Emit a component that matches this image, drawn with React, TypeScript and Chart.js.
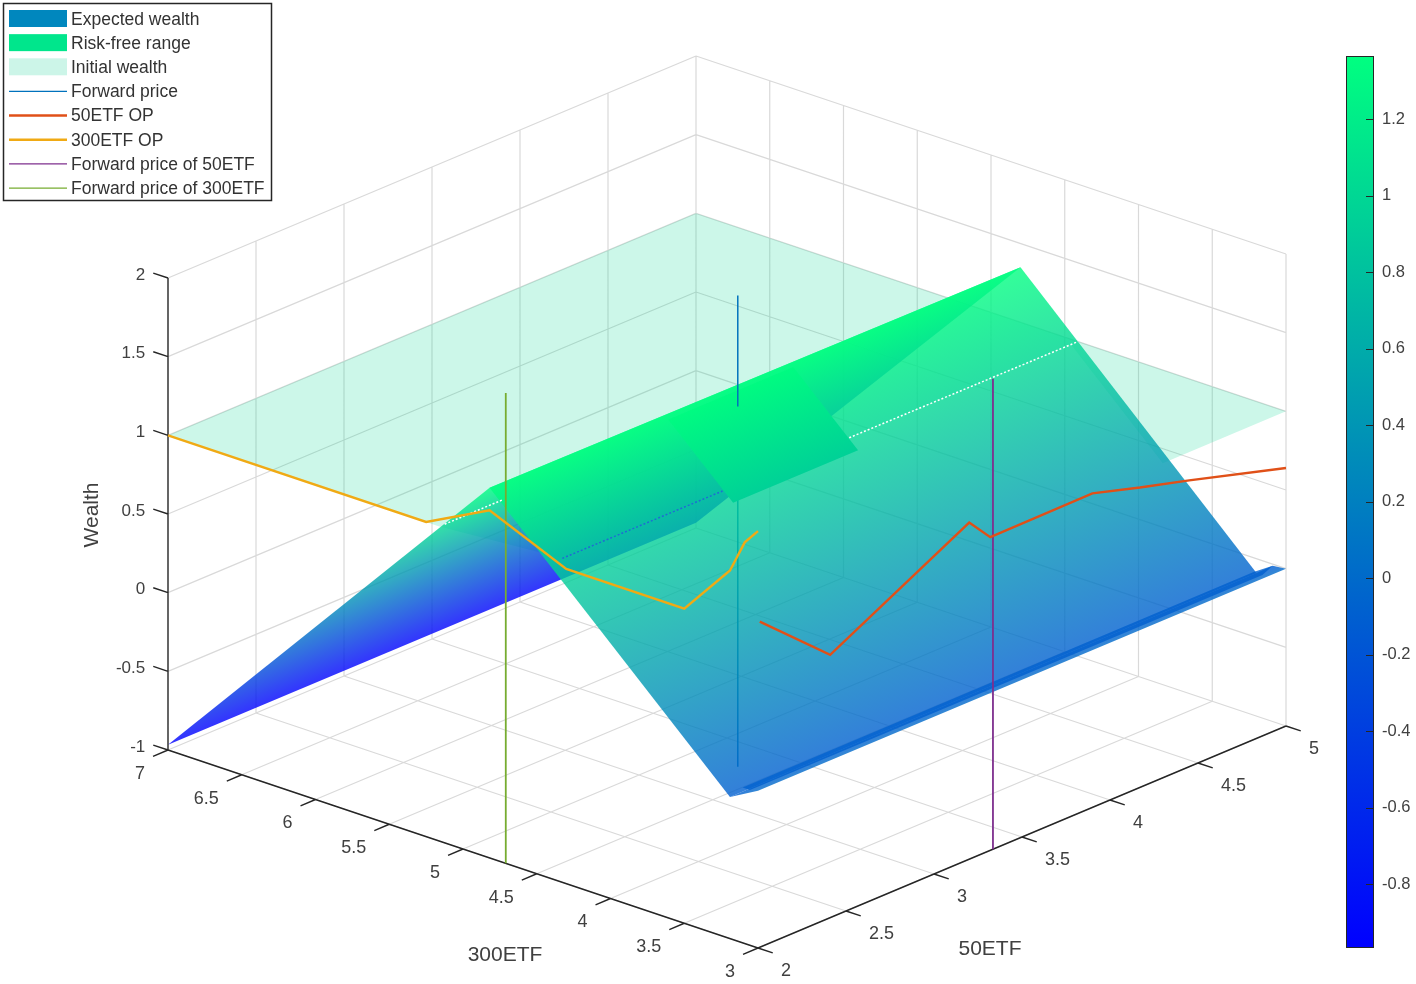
import React, { useEffect, useRef } from "react";
import { Chart, registerables } from "chart.js";

Chart.register(...registerables);

// ---- axes ----
const etf300Ticks = [3, 3.5, 4, 4.5, 5, 5.5, 6, 6.5, 7];
const etf50Ticks = [2, 2.5, 3, 3.5, 4, 4.5, 5];
const wealthTicks = [-1, -0.5, 0, 0.5, 1, 1.5, 2];
const colorLimits = [-0.967, 1.365];

// ---- surfaces: [300ETF, 50ETF, Wealth] ----
type V3 = number[];
const initialWealthPlane: V3[] = [[7, 2, 1], [7, 5, 1], [3, 5, 1], [3, 4.3, 1], [4.41, 4.96, 1], [4.41, 2.07, 1], [5.16, 2, 1]];
const upperFace: V3[] = [[7, 2, -0.967], [4.82, 2, 1.352], [4.8, 5, 1.35], [7, 5, -0.967]];
const lowerFace: V3[] = [[4.82, 2, 1.352], [4.8, 5, 1.35], [3.2, 5, -0.09], [3.19, 2, -0.1]];
const floorStrip: V3[] = [[3.19, 2, -0.1], [3, 2, 0], [3, 5, 0], [3.09, 5, -0.01], [3.2, 5, -0.09]];
const floorBand: V3[] = [[3.2, 2.08, -0.08], [3.15, 2.08, -0.08], [3.16, 5, -0.09], [3.09, 5, -0.01], [3.22, 5, -0.09]];
const riskFreePatch: V3[] = [[4.79, 2.99, 1.33], [4.79, 3.7, 1.33], [4.35, 3.7, 0.94], [4.35, 2.99, 0.94]];

// ---- intersection traces ----
const traceWhiteA: V3[] = [[4.41, 3.7, 1], [4.41, 5, 1]];
const traceWhiteB: V3[] = [[5.16, 2.03, 1], [5.16, 2.36, 1]];
const traceBlue: V3[] = [[4.41, 2.07, 1], [4.41, 2.98, 1]];

// ---- lines ----
const etf300OpU = [7, 5.25, 4.82, 4.3, 3.5, 3.19, 3.09, 3];
const etf300OpZ = [1, 1, 1.21, 1, 1, 1.34, 1.55, 1.65];
const etf50OpV = [2.01, 2.41, 3.2, 3.32, 3.9, 4.17, 4.45, 5];
const etf50OpZ = [1.07, 0.67, 1.14, 0.99, 0.996, 0.906, 0.82, 0.64];
const forwardU = 4.73;
const forward50 = 3.335;
const forward300 = 4.71;
const forwardHiddenZ = [-1.02, 1.27];
const forwardShownZ = [1.27, 1.975];
const forwardFullZ = [-1, 1.99];

// ---- legend ----
const legendNames = ["Expected wealth", "Risk-free range", "Initial wealth", "Forward price", "50ETF OP", "300ETF OP", "Forward price of 50ETF", "Forward price of 300ETF"];
const legendColors = ["#0087be", "#00e68c", "#ccf5e8", "#0072bd", "#e05018", "#f0aa14", "#7e2f8e", "#77ac30"];
const legendKinds = ["patch", "patch", "patch", "thin", "thick", "thick", "thin", "thin"];

// ---- projection frame (canvas positions of the plot box corners) ----
const floorFront = [758, 948];
const floorLeft = [168, 750];
const floorRight = [1286, 726];
const floorBack = [696, 528];
const boxHeight = 472;
const barTop = 56;
const barBottom = 948;

function project(u: number, v: number, z: number) {
  const s = (u - 3) / 4;
  const t = (v - 2) / 3;
  const h = (z + 1) / 3;
  const mix = (k: number) =>
    (1 - s) * (1 - t) * floorFront[k] + s * (1 - t) * floorLeft[k] + (1 - s) * t * floorRight[k] + s * t * floorBack[k];
  return { x: mix(0), y: mix(1) - h * boxHeight };
}

const winter = (z: number, alpha: number) => {
  const f = Math.max(0, Math.min(1, (z - colorLimits[0]) / (colorLimits[1] - colorLimits[0])));
  return `rgba(0,${Math.round(255 * f)},${Math.round(255 * (1 - 0.5 * f))},${alpha})`;
};

function facetFill(verts: V3[], alpha: number) {
  return (c: any) => {
    const chart = c.chart;
    const pts = verts.map((w) => ({ ...project(w[0], w[1], w[2]), z: w[2] }));
    const [a, b, d] = pts;
    const det = (b.x - a.x) * (d.y - a.y) - (d.x - a.x) * (b.y - a.y);
    const gx = ((b.z - a.z) * (d.y - a.y) - (d.z - a.z) * (b.y - a.y)) / det;
    const gy = ((b.x - a.x) * (d.z - a.z) - (d.x - a.x) * (b.z - a.z)) / det;
    const n2 = gx * gx + gy * gy;
    if (!isFinite(n2) || n2 === 0) return winter(a.z, alpha);
    const lo = pts.reduce((m, p) => (p.z < m.z ? p : m), pts[0]);
    const hi = pts.reduce((m, p) => (p.z > m.z ? p : m), pts[0]);
    const dz = hi.z - lo.z;
    const grad = chart.ctx.createLinearGradient(lo.x, lo.y, lo.x + (gx * dz) / n2, lo.y + (gy * dz) / n2);
    grad.addColorStop(0, winter(lo.z, alpha));
    grad.addColorStop(1, winter(hi.z, alpha));
    return grad;
  };
}

const base = { showLine: true, pointRadius: 0, tension: 0, spanGaps: false };
const toXY = (vs: V3[]) => vs.map((w) => project(w[0], w[1], w[2]));
const lineSet = (label: string, vs: V3[], color: string, width: number, dash: number[] = []) => ({
  ...base, label, data: toXY(vs), borderColor: color, borderWidth: width, borderDash: dash, fill: false,
});
const polySet = (label: string, vs: V3[], alpha: number) => ({
  ...base, label, data: toXY(vs), borderWidth: 0, borderColor: "rgba(0,0,0,0)", fill: "shape", backgroundColor: facetFill(vs, alpha),
});
const GAP: V3 = [NaN, NaN, NaN];
const segments = (list: V3[][]) => list.flatMap((s) => [...s, GAP]);

function gridSegments() {
  const out: V3[][] = [];
  etf300Ticks.forEach((u) => { out.push([[u, 2, -1], [u, 5, -1]]); if (u >= 3) out.push([[u, 5, -1], [u, 5, 2]]); });
  etf50Ticks.forEach((v) => { out.push([[3, v, -1], [7, v, -1]]); if (v > 2) out.push([[7, v, -1], [7, v, 2]]); });
  wealthTicks.forEach((z) => { out.push([[7, 2, z], [7, 5, z]]); out.push([[7, 5, z], [3, 5, z]]); });
  return out;
}
function tickSegments() {
  const out: V3[][] = [[[7, 2, -1], [7, 2, 2]], [[7, 2, -1], [3, 2, -1]], [[3, 2, -1], [3, 5, -1]]];
  etf300Ticks.forEach((u) => out.push([[u, 2, -1], [u, 1.915, -1]]));
  etf50Ticks.forEach((v) => out.push([[3, v, -1], [2.9, v, -1]]));
  wealthTicks.forEach((z) => out.push([[7, 2, z], [7.1, 2, z]]));
  return out;
}

const mainLabels = {
  id: "mainLabels",
  afterDraw(chart: any) {
    const { ctx } = chart;
    ctx.save();
    ctx.font = '17px "Liberation Sans"';
    ctx.fillStyle = "#404040";
    ctx.textBaseline = "middle";
    ctx.textAlign = "right";
    wealthTicks.forEach((z) => {
      const p = project(7.1, 2, z);
      ctx.fillText(String(z), p.x - 8, p.y + 2);
    });
    ctx.font = '18px "Liberation Sans"';
    etf300Ticks.forEach((u) => {
      const p = project(u, 2, -1);
      ctx.fillText(String(u), p.x - 23, p.y + 24);
    });
    ctx.textAlign = "left";
    etf50Ticks.forEach((v) => {
      const p = project(3, v, -1);
      ctx.fillText(String(v), p.x + 23, p.y + 23);
    });
    ctx.font = '21px "Liberation Sans"';
    ctx.textAlign = "center";
    ctx.fillText("300ETF", 505, 955);
    ctx.fillText("50ETF", 990, 949);
    ctx.save();
    ctx.translate(92, 515);
    ctx.rotate(-Math.PI / 2);
    ctx.fillText("Wealth", 0, 0);
    ctx.restore();

    ctx.fillStyle = "#ffffff";
    ctx.fillRect(3.5, 3.5, 268, 197);
    ctx.strokeStyle = "#262626";
    ctx.lineWidth = 1.5;
    ctx.strokeRect(3.5, 3.5, 268, 197);
    ctx.font = '17.5px "Liberation Sans"';
    ctx.textAlign = "left";
    legendNames.forEach((name, i) => {
      const y = 19 + i * 24.15;
      if (legendKinds[i] === "patch") {
        ctx.fillStyle = legendColors[i];
        ctx.fillRect(9, y - 9, 58, 17);
      } else {
        ctx.strokeStyle = legendColors[i];
        ctx.lineWidth = legendKinds[i] === "thick" ? 2.5 : 1.3;
        ctx.beginPath();
        ctx.moveTo(9, y);
        ctx.lineTo(67, y);
        ctx.stroke();
      }
      ctx.fillStyle = "#333333";
      ctx.fillText(name, 71, y + 1);
    });
    ctx.restore();
  },
};

const colorbarFrame = {
  id: "colorbarFrame",
  afterDraw(chart: any) {
    const { ctx, chartArea: a, scales } = chart;
    ctx.save();
    ctx.strokeStyle = "#262626";
    ctx.lineWidth = 1;
    ctx.strokeRect(a.left + 0.5, a.top + 0.5, a.width - 1, a.height - 1);
    scales.y.ticks.forEach((t: any) => {
      const y = Math.round(scales.y.getPixelForValue(t.value)) + 0.5;
      ctx.beginPath();
      ctx.moveTo(a.right - 8, y);
      ctx.lineTo(a.right, y);
      ctx.stroke();
    });
    ctx.restore();
  },
};

export default function App() {
  const mainRef = useRef<HTMLCanvasElement>(null);
  const barRef = useRef<HTMLCanvasElement>(null);

  useEffect(() => {
    const datasets: any[] = [
      lineSet("grid", segments(gridSegments()), "#d9d9d9", 1.2),
      polySet("Initial wealth", initialWealthPlane, 0.2),
      lineSet("Forward price", forwardHiddenZ.map((z) => [forwardU, forward50, z]), "#0072bd", 1.5),
      polySet("Expected wealth", upperFace, 0.8),
      polySet("Expected wealth lower", lowerFace, 0.8),
      lineSet("trace", traceWhiteA, "#ffffff", 1.5, [2, 2]),
      lineSet("trace", traceWhiteB, "#ffffff", 1.5, [2, 2]),
      lineSet("trace", traceBlue, "#1e6ed2", 1.5, [2, 2]),
      polySet("Risk-free range", riskFreePatch, 1),
      polySet("floor strip", floorStrip, 0.8),
      polySet("floor band", floorBand, 0.8),
      lineSet("axes", segments(tickSegments()), "#262626", 1.4),
      lineSet("Forward price top", forwardShownZ.map((z) => [forwardU, forward50, z]), "#0072bd", 1.5),
      lineSet("Forward price of 300ETF", forwardFullZ.map((z) => [forward300, 2, z]), "#77ac30", 1.8),
      lineSet("Forward price of 50ETF", forwardFullZ.map((z) => [3, forward50, z]), "#7e2f8e", 1.8),
      lineSet("300ETF OP", etf300OpU.map((u, i) => [u, 2, etf300OpZ[i]]), "#f0aa14", 2.4),
      lineSet("50ETF OP", etf50OpV.map((v, i) => [3, v, etf50OpZ[i]]), "#e05018", 2.4),
    ].map((d, i) => ({ ...d, order: -i }));

    const main = new Chart(mainRef.current as HTMLCanvasElement, {
      type: "scatter",
      data: { datasets },
      options: {
        animation: false,
        responsive: false,
        events: [],
        layout: { padding: 0 },
        scales: {
          x: { type: "linear", min: 0, max: 1416, display: false },
          y: { type: "linear", min: 0, max: 984, reverse: true, display: false },
        },
        plugins: { legend: { display: false }, tooltip: { enabled: false } },
      },
      plugins: [mainLabels],
    } as any);

    const bar = new Chart(barRef.current as HTMLCanvasElement, {
      type: "bar",
      data: {
        labels: ["Wealth"],
        datasets: [
          {
            data: [colorLimits],
            barPercentage: 1,
            categoryPercentage: 1,
            borderWidth: 0,
            backgroundColor: (c: any) => {
              const g = c.chart.ctx.createLinearGradient(0, barBottom, 0, barTop);
              g.addColorStop(0, winter(colorLimits[0], 1));
              g.addColorStop(1, winter(colorLimits[1], 1));
              return g;
            },
          },
        ],
      },
      options: {
        animation: false,
        responsive: false,
        events: [],
        layout: { padding: { left: 6, top: barTop, bottom: 984 - barBottom, right: 0 } },
        scales: {
          x: { display: false },
          y: {
            position: "right",
            min: colorLimits[0],
            max: colorLimits[1],
            afterFit: (s: any) => { s.width = 42; },
            grid: { display: false, drawTicks: false },
            border: { display: false },
            ticks: {
              stepSize: 0.2,
              includeBounds: false,
              padding: 8,
              color: "#404040",
              font: { family: "Liberation Sans", size: 16.5 },
              callback: (v: any) => String(Math.round(Number(v) * 10) / 10),
            },
          },
        },
        plugins: { legend: { display: false }, tooltip: { enabled: false } },
      },
      plugins: [colorbarFrame],
    } as any);

    return () => {
      main.destroy();
      bar.destroy();
    };
  }, []);

  return (
    <div style={{ position: "absolute", left: 0, top: 0, width: 1416, height: 984, background: "#fff", overflow: "hidden" }}>
      <canvas ref={mainRef} width={1416} height={984} style={{ position: "absolute", left: 0, top: 0, display: "block" }} />
      <canvas ref={barRef} width={76} height={984} style={{ position: "absolute", left: 1340, top: 0, display: "block" }} />
    </div>
  );
}
